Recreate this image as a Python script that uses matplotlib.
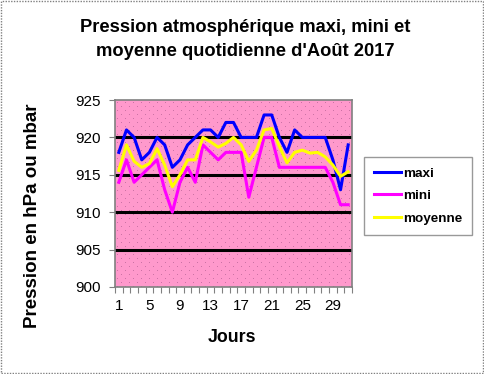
import matplotlib
matplotlib.use("Agg")
import matplotlib.pyplot as plt
import numpy as np
from matplotlib.patches import Rectangle
from matplotlib.ticker import FixedLocator, NullFormatter

days = list(range(1, 32))
maxi = [918, 921, 920, 917, 918, 920, 919, 916, 917, 919, 920, 921, 921, 920, 922, 922,
        920, 920, 920, 923, 923, 920, 918, 921, 920, 920, 920, 920, 917, 913, 919]
mini = [914, 917, 914, 915, 916, 917, 913, 910, 914, 916, 914, 919, 918, 917, 918, 918,
        918, 912, 916, 920, 920, 916, 916, 916, 916, 916, 916, 916, 914, 911, 911]
moyenne = [915.6, 919.0, 916.8, 916.0, 916.5, 918.5, 916.3, 913.4, 915.0, 917.0, 917.0,
           920.0, 919.4, 918.7, 919.2, 920.0, 919.0, 916.8, 918.3, 921.0, 921.2, 918.8,
           916.6, 918.0, 918.3, 917.9, 918.0, 917.4, 916.3, 914.8, 915.4]
xtick_labels = [1, 5, 9, 13, 17, 21, 25, 29]
ytick_vals = [900, 905, 910, 915, 920, 925]

plt.rcParams['font.family'] = ['Liberation Sans', 'DejaVu Sans']

W, H = 484, 374
fig = plt.figure(figsize=(W/100, H/100), dpi=100)
fig.patch.set_facecolor('white')
L, R, T, B = 115, 352, 100, 287
ax = fig.add_axes([L/W, 1-B/H, (R-L)/W, (B-T)/H])

# dotted texture background
aw, ah = R-L, B-T
tex = np.ones((ah, aw, 3)) * np.array([1.0, 0.6, 0.8])
rr, cc = np.mgrid[0:ah, 0:aw]
mask = ((rr % 8 == 2) & (cc % 8 == 2)) | ((rr % 8 == 6) & (cc % 8 == 6))
tex[mask] = np.array([0.80, 0.45, 0.65])
ax.imshow(tex, extent=(0.5, 31.5, 900, 925), aspect='auto', interpolation='nearest', zorder=0)

for y in [905, 910, 915, 920]:
    ax.axhline(y, color='black', linewidth=2.2, zorder=1)

ax.plot(days, maxi, color='#0000FF', linewidth=2.2, label='maxi', zorder=3)
ax.plot(days, mini, color='#FF00FF', linewidth=2.2, label='mini', zorder=3)
ax.plot(days, moyenne, color='#FFFF00', linewidth=2.2, label='moyenne', zorder=3)

ax.set_xlim(0.5, 31.5)
ax.set_ylim(900, 925)
ax.set_yticks(ytick_vals)
ax.set_yticklabels([str(v) for v in ytick_vals], fontsize=11)
ax.set_xticks(xtick_labels)
ax.set_xticklabels([str(v) for v in xtick_labels], fontsize=11)
ax.xaxis.set_minor_locator(FixedLocator([d + 0.5 for d in range(0, 32)]))
ax.xaxis.set_minor_formatter(NullFormatter())
ax.tick_params(axis='x', which='major', length=0, pad=9)
ax.tick_params(axis='x', which='minor', length=4, width=0.8, color='#808080', direction='out')
ax.tick_params(axis='y', which='major', length=4, width=0.8, color='#808080', pad=6)

for s in ax.spines.values():
    s.set_color('#808080')
    s.set_linewidth(1.2)

fig.text(232/W, 1-338/H, 'Jours', fontsize=12.8, fontweight='bold', ha='center', va='center')
fig.text(33/W, 1-216/H, 'Pression en hPa ou mbar', fontsize=13.5, fontweight='bold',
         ha='center', va='center', rotation=90)

fig.text(245/W, 1-28/H, "Pression atmosphérique maxi, mini et",
         ha='center', va='center', fontsize=13.2, fontweight='bold')
fig.text(245/W, 1-51/H, "moyenne quotidienne d'Août 2017",
         ha='center', va='center', fontsize=13.2, fontweight='bold')

leg = fig.legend(loc='upper left', bbox_to_anchor=(364/W, 1-157/H),
                 fontsize=9.7, frameon=True, fancybox=False, handlelength=2.0,
                 handletextpad=0.15, labelspacing=0.75, borderpad=0.75, borderaxespad=0)
leg.get_frame().set_edgecolor('#808080')
leg.get_frame().set_linewidth(1.0)
for t in leg.get_texts():
    t.set_fontweight('bold')

border = Rectangle((0.002, 0.003), 0.995, 0.994, transform=fig.transFigure, fill=False,
                   edgecolor='#808080', linestyle=(0, (1, 1)), linewidth=1.0)
fig.patches.append(border)

fig.savefig('out.png', dpi=100)
